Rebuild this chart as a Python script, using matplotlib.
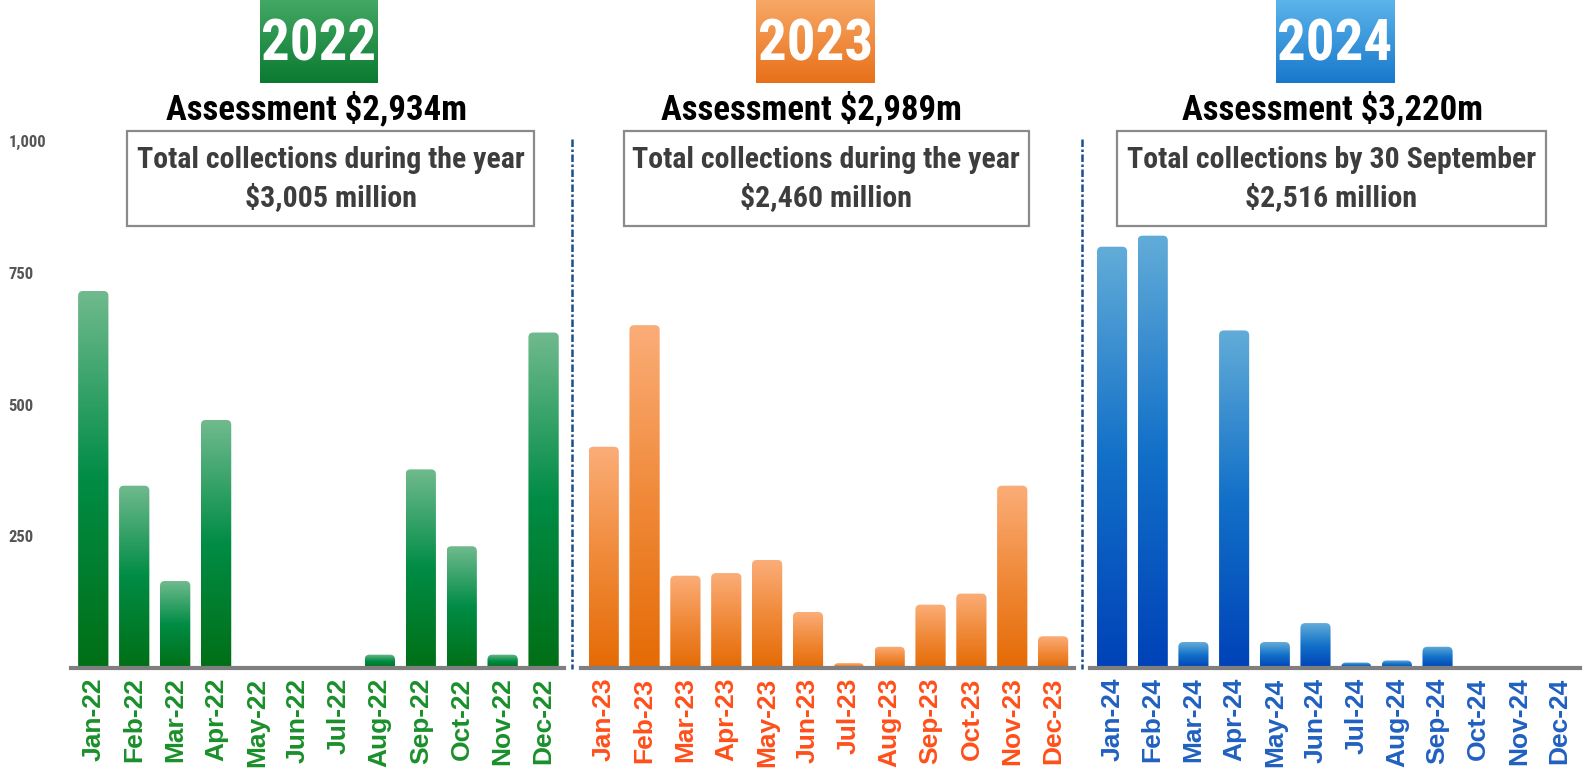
import numpy as np
import matplotlib
matplotlib.use("Agg")
import matplotlib.pyplot as plt
from matplotlib.colors import LinearSegmentedColormap
from matplotlib.patches import FancyBboxPatch, Rectangle
from matplotlib.lines import Line2D

# --- data (millions) ---
months = ["Jan", "Feb", "Mar", "Apr", "May", "Jun", "Jul", "Aug", "Sep", "Oct", "Nov", "Dec"]
years = ["2022", "2023", "2024"]
vals_2022 = [716, 346, 165, 471, 0, 0, 0, 25, 377, 231, 25, 637]
vals_2023 = [420, 651, 175, 180, 205, 106, 9, 40, 120, 141, 346, 60]
vals_2024 = [800, 821, 49, 641, 49, 85, 10, 14, 40, 0, 0, 0]
assessments = ["Assessment $2,934m", "Assessment $2,989m", "Assessment $3,220m"]
box_line1 = ["Total collections during the year", "Total collections during the year",
             "Total collections by 30 September"]
box_line2 = ["$3,005 million", "$2,460 million", "$2,516 million"]
yticks = [250, 500, 750, 1000]
ytick_labels = ["250", "500", "750", "1,000"]

COND = ["Roboto Condensed", "DejaVu Sans"]
BOLD = ["Liberation Sans", "DejaVu Sans"]

# bar gradient (bottom -> top), label colour, year box gradient (bottom -> top)
styles = [
    dict(bar=["#006f16", "#008c45", "#70ba8e"], lab="#1a8f2a", box=["#0b7a30", "#43a865"]),
    dict(bar=["#e56b05", "#f08a3a", "#fbad78"], lab="#ff4f1a", box=["#e8701a", "#f7a866"]),
    dict(bar=["#0042b8", "#1270c8", "#62acd8"], lab="#2060c0", box=["#1878cc", "#5cb4ea"]),
]

fig = plt.figure(figsize=(15.85, 7.83), dpi=100)
fig.patch.set_facecolor("white")

W, H = 1568.0, 775.0  # measured on the shrunk reference
ax_spans = [(70, 558), (575, 1062), (1078, 1563)]
bottom = 1 - 661 / H
height = (661 - 140) / H

all_vals = [vals_2022, vals_2023, vals_2024]
x = np.arange(12)
grad = np.linspace(0, 1, 256).reshape(-1, 1)

for i, (vals, st) in enumerate(zip(all_vals, styles)):
    l, r = ax_spans[i]
    ax = fig.add_axes([l / W, bottom, (r - l) / W, height])
    cmap = LinearSegmentedColormap.from_list(f"c{i}", st["bar"])
    bars = ax.bar(x, vals, width=0.74, color="none", edgecolor="none")
    for b in bars:
        h = b.get_height()
        if h <= 0:
            continue
        x0, w = b.get_x(), b.get_width()
        clip = FancyBboxPatch((x0, -30), w, h + 30,
                              boxstyle="round,pad=0,rounding_size=0.12",
                              mutation_aspect=78, facecolor="none", edgecolor="none")
        ax.add_patch(clip)
        im = ax.imshow(grad, extent=[x0, x0 + w, 0, h], origin="lower", cmap=cmap,
                       aspect="auto", zorder=2, interpolation="bilinear")
        im.set_clip_path(clip)
    ax.set_xlim(-0.55, 11.5)
    ax.set_ylim(0, 1000)
    for s in ["top", "right", "left"]:
        ax.spines[s].set_visible(False)
    ax.spines["bottom"].set_color("#7f7f7f")
    ax.spines["bottom"].set_linewidth(3)
    ax.spines["bottom"].set_zorder(3)
    ax.set_xticks(x)
    ax.set_xticklabels([f"{m}-{years[i][2:]}" for m in months], rotation=90,
                       fontsize=19, fontweight="bold", color=st["lab"], family=BOLD)
    ax.tick_params(axis="x", length=0, pad=7)
    if i == 0:
        ax.set_yticks(yticks)
        ax.set_yticklabels(ytick_labels, fontsize=12, fontweight="bold",
                           color="#555555", family=COND)
        ax.tick_params(axis="y", length=0, pad=45)
        for t in ax.get_yticklabels():
            t.set_ha("left")
    else:
        ax.set_yticks([])
    ax.patch.set_visible(False)

# year badges
badge_spans = [(257, 373), (748, 865), (1262, 1379)]
for i, (l, r) in enumerate(badge_spans):
    bax = fig.add_axes([l / W, 1 - 82 / H, (r - l) / W, 82 / H])
    cmap = LinearSegmentedColormap.from_list(f"b{i}", styles[i]["box"])
    bax.imshow(grad, extent=[0, 1, 0, 1], origin="lower", cmap=cmap, aspect="auto")
    bax.set_axis_off()
    bax.text(0.5, 0.46, years[i], ha="center", va="center", color="white",
             fontsize=41, fontweight="bold", family=COND, transform=bax.transAxes)

# assessment titles
title_x = [313, 803, 1318]
for i, t in enumerate(assessments):
    fig.text(title_x[i] / W, 1 - 107 / H, t, ha="center", va="center",
             fontsize=25, fontweight="bold", family=COND, color="black")

# collection boxes
box_spans = [(126, 528), (617, 1018), (1105, 1529)]
for i, (l, r) in enumerate(box_spans):
    fig.patches.append(Rectangle((l / W, 1 - 224 / H), (r - l) / W, 94 / H,
                                 transform=fig.transFigure, facecolor="white",
                                 edgecolor="#8a8a8a", linewidth=1.6, zorder=5))
    cx = (l + r) / 2 / W
    fig.text(cx, 1 - 158 / H, box_line1[i], ha="center", va="center", fontsize=21.5,
             fontweight="bold", family=COND, color="#3d3d3d", zorder=6)
    fig.text(cx, 1 - 196 / H, box_line2[i], ha="center", va="center", fontsize=21.5,
             fontweight="bold", family=COND, color="#3d3d3d", zorder=6)

# dashed separators
for sx in [566, 1070]:
    fig.add_artist(Line2D([sx / W, sx / W], [1 - 138 / H, 1 - 662 / H],
                          transform=fig.transFigure, color="#1f4e8c",
                          linewidth=1.8, linestyle=(0, (3, 1, 1, 1))))

fig.savefig("out.png", dpi=100)
